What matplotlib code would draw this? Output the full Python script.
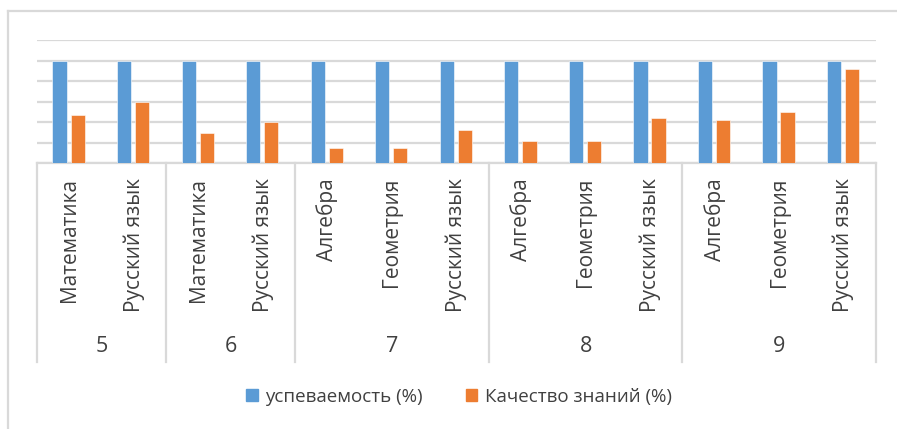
import numpy as np
import matplotlib
matplotlib.use("Agg")
import matplotlib.pyplot as plt
from matplotlib.lines import Line2D
from matplotlib.patches import Patch

plt.rcParams["font.family"] = ["Open Sans", "DejaVu Sans"]

grades = ["5", "6", "7", "8", "9"]
subjects = [["Математика", "Русский язык"],
            ["Математика", "Русский язык"],
            ["Алгебра", "Геометрия", "Русский язык"],
            ["Алгебра", "Геометрия", "Русский язык"],
            ["Алгебра", "Геометрия", "Русский язык"]]
uspevaemost = [100, 100, 100, 100, 100, 100, 100, 100, 100, 100, 100, 100, 100]
kachestvo = [47, 60, 29, 40, 15, 15, 32, 21, 21, 44, 42, 50, 92]

blue = "#5B9BD5"
orange = "#ED7D31"
grid = "#D9D9D9"
text_col = "#404040"

W, H = 897, 429
fig = plt.figure(figsize=(W / 100, H / 100), dpi=100)
ax_l, ax_r, ax_b, ax_t = 37, 876, 163, 40
ax = fig.add_axes([ax_l / W, 1 - ax_b / H, (ax_r - ax_l) / W, (ax_b - ax_t) / H])

n = len(kachestvo)
x = np.arange(n)
w = 0.22
ax.bar(x - 0.15, uspevaemost, w, color=blue, edgecolor="white", linewidth=0.4, zorder=3)
ax.bar(x + 0.13, kachestvo, w, color=orange, edgecolor="white", linewidth=0.4, zorder=3)

ax.set_xlim(-0.5, n - 0.5)
ax.set_ylim(0, 120)
ax.set_yticks(range(0, 121, 20))
ax.set_yticklabels([])
ax.set_xticks([])
ax.tick_params(length=0)
ax.grid(axis="y", color=grid, lw=1.6, zorder=0)
for s in ["top", "left", "right"]:
    ax.spines[s].set_visible(False)
ax.spines["bottom"].set_color(grid)
ax.spines["bottom"].set_linewidth(1.6)

# multi-level category axis
axh = ax_b - ax_t
trans = ax.get_xaxis_transform()
sub_top = (ax_b - 178) / axh
grp_y = (ax_b - 347) / axh
line_bot = (ax_b - 362) / axh

labels = [s for g in subjects for s in g]
for i, lab in enumerate(labels):
    ax.text(i, sub_top, lab, rotation=90, ha="center", va="top",
            fontsize=15, color=text_col, transform=trans)

start = 0
bounds = [-0.5]
for g, subs in zip(grades, subjects):
    end = start + len(subs)
    ax.text((start + end - 1) / 2, grp_y, g, ha="center", va="center",
            fontsize=15.5, color=text_col, transform=trans)
    bounds.append(end - 0.5)
    start = end
for b in bounds:
    ax.add_line(Line2D([b, b], [0, line_bot], color=grid, lw=1.6,
                       transform=trans, clip_on=False))

# chart border
fig.add_artist(Line2D([7.5 / W, 7.5 / W], [0, 1 - 10.5 / H], color=grid, lw=1.6,
                      transform=fig.transFigure))
fig.add_artist(Line2D([7.5 / W, 1], [1 - 10.5 / H, 1 - 10.5 / H], color=grid, lw=1.6,
                      transform=fig.transFigure))

handles = [Patch(color=blue), Patch(color=orange)]
fig.legend(handles, ["успеваемость (%)", "Качество знаний (%)"],
           loc="center", bbox_to_anchor=(459 / W, 1 - 397 / H), ncol=2,
           frameon=False, fontsize=13.5, handlelength=0.6, handleheight=0.6,
           handletextpad=0.4, columnspacing=2.3, labelcolor=text_col)

fig.savefig("out.png", dpi=100, facecolor="white")
